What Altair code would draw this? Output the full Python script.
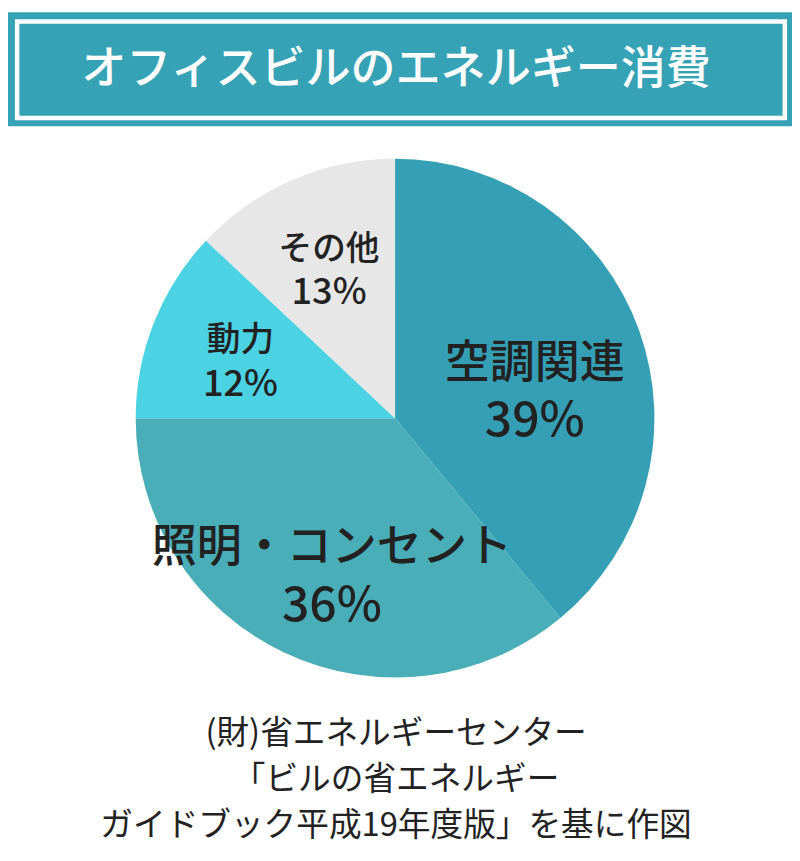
import altair as alt
import pandas as pd

# data
categories = ["空調関連", "照明・コンセント", "動力", "その他"]
values = [39, 36, 12, 13]
colors = ["#35A0B5", "#49AEB8", "#4BD3E4", "#E7E7E7"]
title_text = "オフィスビルのエネルギー消費"
source_lines = [
    "(財)省エネルギーセンター",
    "「ビルの省エネルギー",
    "ガイドブック平成19年度版」を基に作図",
]

FONT = "Noto Sans CJK JP"
TEAL = "#36A2B6"
INK = "#222222"
# pie centre, in chart pixels (page minus the 8px margin)
CX, CY = 391, 410

df = pd.DataFrame({"category": categories, "value": values})
base = alt.Chart(df).transform_window(idx="row_number()")
one = pd.DataFrame({"a": [0]})

# header box: teal block with a white inner frame
header = alt.Chart(one).mark_rect(color=TEAL).encode(
    x=alt.value(0), x2=alt.value(792), y=alt.value(0), y2=alt.value(115)
)
frame = alt.Chart(one).mark_rect(
    fill=None, stroke="white", strokeWidth=4.5
).encode(x=alt.value(9.25), x2=alt.value(784.75), y=alt.value(9.25), y2=alt.value(106.75))
header_text = alt.Chart(one).mark_text(
    font=FONT, fontSize=45.5, fontWeight=500, color="white",
    align="center", baseline="middle",
).encode(x=alt.value(392), y=alt.value(58), text=alt.value(title_text))

pie = base.mark_arc(radius=262, stroke=None).encode(
    theta=alt.Theta("value:Q", stack=True),
    order=alt.Order("idx:Q"),
    color=alt.Color("category:N", scale=alt.Scale(domain=categories, range=colors), legend=None),
    x=alt.value(CX),
    y=alt.value(CY),
)

# mid angle of every slice (radians, 0 = up, clockwise) for the labels
labelled = base.transform_joinaggregate(total="sum(value)").transform_window(
    cum="sum(value)", sort=[alt.SortField("idx")], frame=[None, 0]
).transform_calculate(
    mid="(datum.cum - datum.value / 2) / datum.total * 2 * PI",
    pct="datum.value + '%'",
)


def slice_text(test, field, size, radius, dy):
    # one line of the slice labels, placed at the slice's mid angle
    return labelled.transform_filter(test).mark_text(
        font=FONT, fontSize=size, fontWeight=500, color=INK, align="center",
        baseline="middle", radius=radius, dy=dy,
    ).encode(
        theta=alt.Theta("mid:Q", scale=None),
        text=f"{field}:N",
        x=alt.value(CX),
        y=alt.value(CY),
    )


big_name = slice_text("datum.value >= 20", "category", 45.5, 150, -4)
big_pct = slice_text("datum.value >= 20", "pct", 48.5, 150, 54)
small_name = slice_text("datum.value < 20", "category", 34, 168, -16)
small_pct = slice_text("datum.value < 20", "pct", 36.5, 168, 28)

source = alt.Chart(one).mark_text(
    font=FONT, fontSize=33, color=INK, align="center", baseline="middle",
    lineHeight=46.5,
).encode(x=alt.value(392), y=alt.value(729), text=alt.value(source_lines))

chart = alt.layer(
    header, frame, header_text, pie, big_name, big_pct, small_name, small_pct, source
).properties(
    width=792, height=853, padding=0,
    autosize=alt.AutoSizeParams(type="none"),
).configure_view(stroke=None)

chart.save("out.html", embed_options={"renderer": "svg", "actions": False})
